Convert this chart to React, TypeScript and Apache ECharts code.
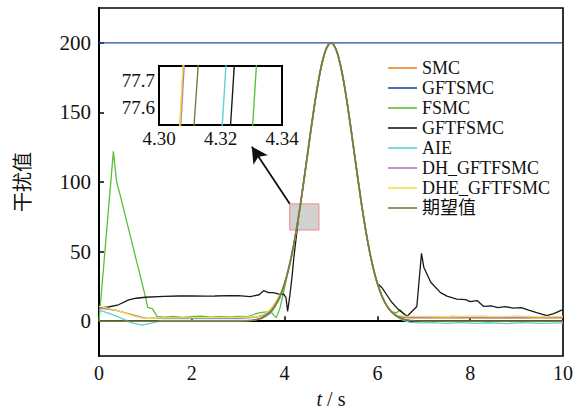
import React, { useEffect, useRef } from "react";
import * as echarts from "echarts";

const SERIF = "Liberation Serif";

const names = ["SMC", "GFTSMC", "FSMC", "GFTFSMC", "AIE", "DH_GFTFSMC", "DHE_GFTFSMC", "期望值"];
const colors = ["#f5821f", "#1f4fa0", "#5cbf3a", "#1a1a1a", "#5fd0d8", "#b47ab8", "#ece44a", "#7a7a42"];

const yTicks = [0, 50, 100, 150, 200];
const insetXTicks = [4.3, 4.32, 4.34];
const insetYTicks = [77.6, 77.7];

// desired (期望值) bell
const bellT = [3.4, 3.5, 3.6, 3.7, 3.75, 3.8, 3.85, 3.9, 3.95, 4.0, 4.05, 4.1, 4.15, 4.2, 4.25, 4.3, 4.35, 4.4, 4.45, 4.5, 4.55, 4.6, 4.65, 4.7, 4.75, 4.8, 4.85, 4.9, 4.95, 5.0, 5.05, 5.1, 5.15, 5.2, 5.25, 5.3, 5.35, 5.4, 5.45, 5.5, 5.55, 5.6, 5.65, 5.7, 5.75, 5.8, 5.85, 5.9, 5.95, 6.0, 6.05, 6.1, 6.15, 6.2, 6.25, 6.3, 6.4, 6.5, 6.6];
const bellV = [1.2, 2.2, 4.0, 6.8, 8.8, 11.2, 14.2, 17.8, 22.1, 27.1, 32.9, 39.6, 47.1, 55.6, 64.9, 75.1, 85.9, 97.4, 109.2, 121.3, 133.4, 145.2, 156.5, 167.1, 176.5, 184.6, 191.2, 196.0, 199.0, 200, 199.0, 196.0, 191.2, 184.6, 176.5, 167.1, 156.5, 145.2, 133.4, 121.3, 109.2, 97.4, 85.9, 75.1, 64.9, 55.6, 47.1, 39.6, 32.9, 27.1, 22.1, 17.8, 14.2, 11.2, 8.8, 6.8, 4.0, 2.2, 1.2];

const desiredHead = [[0, 0], [3.0, 0], [3.2, 0.3], [3.3, 0.6]];
const desiredTail = [[6.7, 0.6], [6.8, 0.3], [7.0, 0], [10, 0]];

const smcHead = [[0, 9.8], [0.35, 8], [0.8, 3.8], [1.0, 2.0], [1.3, 2.2], [2.0, 2.3], [3.0, 2.4], [3.4, 3], [3.6, 5], [3.8, 12.5]];
const smcTail = [[6.4, 4.5], [6.5, 3], [6.7, 2.4], [8.0, 2.5], [10, 2.4]];

const gftsmcLine = [[0, 200], [10, 200]];

const fsmcHead = [[0, 0], [0.31, 122], [0.38, 100], [0.46, 90], [1.0, 17.6], [1.05, 10], [1.1, 9.4], [1.15, 9], [1.25, 3.5], [1.4, 3], [1.6, 3.4], [1.8, 2.8], [2.0, 3.2], [2.2, 3.6], [2.4, 2.9], [2.6, 3.3], [2.8, 3.0], [3.0, 3.5], [3.2, 3.2], [3.35, 5], [3.45, 6], [3.55, 6.5], [3.7, 6.8], [3.82, 2.4], [3.9, 9.4], [4.0, 24]];
const fsmcTail = [[6.4, 6], [6.5, 8], [6.6, 4], [6.7, 3], [7.0, 3.3], [7.3, 2.8], [7.6, 3.5], [8.0, 3.0], [8.3, 3.4], [8.6, 2.9], [9.0, 3.3], [9.3, 2.8], [9.6, 3.2], [10, 3.0]];

const gftfsmcHead = [[0, 9.4], [0.2, 10.2], [0.42, 11.8], [0.64, 15.3], [0.8, 16.5], [1.0, 17.2], [1.4, 17.8], [1.72, 18.1], [2.0, 18.2], [2.3, 18.0], [2.5, 18.1], [2.8, 18.4], [3.0, 18.3], [3.26, 17.6], [3.45, 19], [3.55, 21.9], [3.65, 20.5], [3.76, 20.5], [3.9, 19.2], [3.98, 19.5], [4.03, 17], [4.065, 7.1], [4.11, 17.6], [4.16, 31.8], [4.2, 46], [4.25, 60], [4.3, 74.5]];
const gftfsmcTail = [[6.1, 24], [6.2, 19], [6.3, 14], [6.45, 8.5], [6.64, 3.5], [6.85, 10.6], [6.95, 48.7], [7.0, 38.8], [7.15, 28], [7.36, 20.5], [7.5, 18], [7.71, 15.8], [7.9, 15.5], [8.0, 14], [8.15, 14.8], [8.29, 10.6], [8.45, 11], [8.6, 9.8], [8.75, 10.5], [8.93, 9.4], [9.1, 9.8], [9.26, 8], [9.45, 6], [9.65, 4], [9.8, 5.5], [9.97, 8], [10, 8]];

const aieHead = [[0, 8.2], [0.35, 4], [0.71, -1.2], [0.93, -2.8], [1.15, -1.2], [1.36, 0.5], [1.6, 0.6], [2.0, 0.5], [2.5, 0.6], [3.0, 0.5], [3.3, 0.8], [3.5, 1.8], [3.7, 5.5], [3.9, 16.5]];
const aieTail = [[6.5, 1.5], [6.6, 0.3], [6.7, -0.8], [6.9, -1.2], [7.2, -1.0], [7.5, -1.5], [7.8, -1.0], [8.1, -1.6], [8.4, -1.1], [8.8, -1.7], [9.1, -1.0], [9.5, -1.5], [10, -1.2]];

const dhHead = [[0, 9.4], [0.35, 8], [0.78, 4], [1.0, 2.2], [1.3, 2.0], [2.0, 2.0], [3.0, 2.1], [3.3, 2.5], [3.5, 3.8], [3.7, 7.5], [3.9, 18.5]];
const dhTail = [[6.5, 3.5], [6.6, 2.8], [6.8, 2.5], [7.5, 2.7], [8.5, 2.4], [9.3, 2.6], [10, 2.5]];

const dheHead = [[0, 10.6], [0.35, 8.2], [0.78, 3.5], [1.0, 1.9], [1.3, 2.4], [2.0, 2.5], [3.0, 2.8], [3.42, 3.2], [3.55, 5], [3.69, 8.2], [3.9, 19]];
const dheTail = [[6.5, 4], [6.6, 3.6], [6.8, 3.4], [7.0, 3.5], [7.5, 3.2], [8.0, 3.6], [8.5, 3.3], [9.0, 3.6], [9.5, 3.2], [10, 3.5]];

// inset (zoomed) crossing lines at t 4.30-4.34, value 77.5-77.8
const insetSmc = [[4.3067, 77.5], [4.3081, 77.8]];
const insetFsmc = [[4.3303, 77.5], [4.3319, 77.8]];
const insetGftfsmc = [[4.3231, 77.5], [4.3247, 77.8]];
const insetAie = [[4.3204, 77.5], [4.322, 77.8]];
const insetDh = [[4.3069, 77.5], [4.3084, 77.8]];
const insetDhe = [[4.3066, 77.5], [4.308, 77.8]];
const insetDesired = [[4.3112, 77.5], [4.313, 77.8]];

const zoomBox = [[4.11, 65.5], [4.74, 84.3]];
const arrowTip = [3.293, 125.4];

function bell(a: number, b: number) {
  const out: number[][] = [];
  for (let i = 0; i < bellT.length; i++) {
    if (bellT[i] >= a - 1e-9 && bellT[i] <= b + 1e-9) out.push([bellT[i], bellV[i]]);
  }
  return out;
}

const FONT_CSS =
  '#root svg text, #root svg tspan { font-family: "Liberation Serif", "Noto Sans CJK SC", serif !important; }';

export default function App() {
  const ref = useRef<HTMLDivElement>(null);
  useEffect(() => {
    document.body.style.margin = "0";
    const chart = echarts.init(ref.current!, null, { renderer: "svg" });
    const mainData: any[] = [
      [...smcHead, ...bell(3.85, 6.3), ...smcTail],
      gftsmcLine,
      [...fsmcHead, ...bell(4.1, 6.3), ...fsmcTail],
      [...gftfsmcHead, ...bell(4.4, 6.0), ...gftfsmcTail],
      [...aieHead, ...bell(3.95, 6.4), ...aieTail],
      [...dhHead, ...bell(3.95, 6.4), ...dhTail],
      [...dheHead, ...bell(3.95, 6.4), ...dheTail],
      [...desiredHead, ...bell(3.4, 6.6), ...desiredTail],
    ];
    const insetData: any[] = [insetSmc, null, insetFsmc, insetGftfsmc, insetAie, insetDh, insetDhe, insetDesired];

    const series: any[] = [];
    names.forEach((n, i) => {
      const s: any = {
        name: n,
        type: "line",
        data: mainData[i],
        xAxisIndex: 0,
        yAxisIndex: 0,
        symbol: "none",
        showSymbol: false,
        color: colors[i],
        lineStyle: { color: colors[i], width: i === 7 ? 1.8 : 1.3 },
        clip: true,
        z: 2 + i,
      };
      if (i === 7) {
        s.markArea = {
          silent: true,
          itemStyle: { color: "rgba(185,185,185,0.65)", borderColor: "#f08a8a", borderWidth: 1 },
          data: [[{ coord: zoomBox[0] }, { coord: zoomBox[1] }]],
        };
        s.markLine = {
          silent: true,
          symbol: ["none", "arrow"],
          symbolSize: [13, 16],
          label: { show: false },
          lineStyle: { color: "#111", width: 1.8, type: "solid" },
          data: [[{ coord: [zoomBox[0][0], zoomBox[1][1]] }, { coord: arrowTip }]],
        };
      }
      series.push(s);
    });
    names.forEach((n, i) => {
      if (!insetData[i]) return;
      series.push({
        name: n,
        type: "line",
        data: insetData[i],
        xAxisIndex: 1,
        yAxisIndex: 1,
        symbol: "none",
        showSymbol: false,
        color: colors[i],
        lineStyle: { color: colors[i], width: 1.4 },
        clip: true,
        z: 20 + i,
      });
    });

    const axisLine = { show: true, lineStyle: { color: "#000", width: 2 } };

    chart.setOption({
      animation: false,
      backgroundColor: "#fff",
      grid: [
        { left: 99, right: 21, top: 8, bottom: 54, show: true, borderColor: "#000", borderWidth: 1.6, backgroundColor: "transparent" },
        { left: 159, top: 66, width: 123, height: 59, show: true, borderColor: "#000", borderWidth: 2, backgroundColor: "#fff", z: 10 },
      ],
      legend: {
        orient: "vertical",
        left: 383,
        top: 54,
        icon: "rect",
        itemWidth: 29,
        itemHeight: 1.6,
        itemGap: 2,
        data: names,
        textStyle: { fontFamily: SERIF, fontSize: 18, color: "#111" },
      },
      xAxis: [
        {
          type: "value",
          gridIndex: 0,
          min: 0,
          max: 10,
          interval: 2,
          axisLine,
          axisTick: { inside: true, length: 5, lineStyle: { width: 1.5, color: "#000" } },
          axisLabel: { fontFamily: SERIF, fontSize: 20, color: "#111", margin: 7 },
          splitLine: { show: false },
          name: "{i|t} / s",
          nameLocation: "middle",
          nameGap: 33,
          nameTextStyle: {
            fontFamily: SERIF,
            fontSize: 20,
            color: "#111",
            rich: { i: { fontFamily: SERIF, fontStyle: "italic", fontSize: 20, color: "#111" } },
          },
        },
        {
          type: "value",
          gridIndex: 1,
          min: 4.3,
          max: 4.34,
          axisLine,
          axisTick: { inside: true, length: 4, lineStyle: { width: 1.5, color: "#000" }, customValues: insetXTicks },
          axisLabel: { fontFamily: SERIF, fontSize: 19, color: "#111", margin: 4, customValues: insetXTicks, formatter: (v: number) => v.toFixed(2) },
          splitLine: { show: false },
        },
      ],
      yAxis: [
        {
          type: "value",
          gridIndex: 0,
          min: -25,
          max: 225,
          axisLine,
          axisTick: { inside: true, length: 5, lineStyle: { width: 1.5, color: "#000" }, customValues: yTicks },
          axisLabel: { fontFamily: SERIF, fontSize: 21, color: "#111", margin: 8, customValues: yTicks },
          splitLine: { show: false },
          name: "干扰值",
          nameLocation: "middle",
          nameGap: 66,
          nameRotate: 90,
          nameTextStyle: { fontFamily: SERIF, fontSize: 20, color: "#111" },
        },
        {
          type: "value",
          gridIndex: 1,
          min: 77.533,
          max: 77.756,
          axisLine,
          axisTick: { inside: true, length: 4, lineStyle: { width: 1.5, color: "#000" }, customValues: insetYTicks },
          axisLabel: { fontFamily: SERIF, fontSize: 19, color: "#111", margin: 4, customValues: insetYTicks, formatter: (v: number) => v.toFixed(1) },
          splitLine: { show: false },
        },
      ],
      series,
    });
    return () => chart.dispose();
  }, []);
  return (
    <>
      <style>{FONT_CSS}</style>
      <div ref={ref} style={{ width: 584, height: 414 }} />
    </>
  );
}
